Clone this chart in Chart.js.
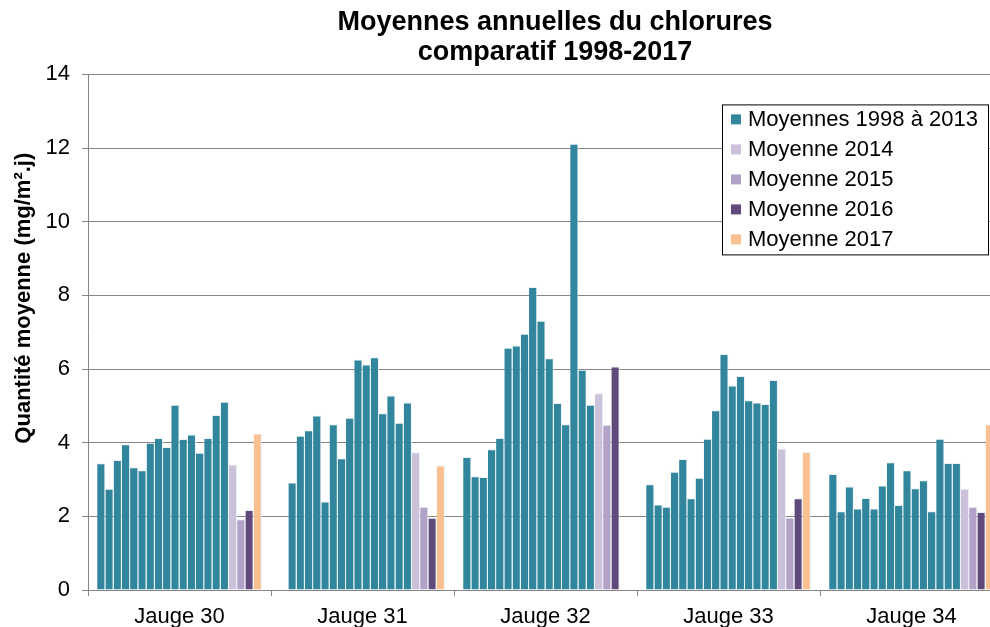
<!DOCTYPE html>
<html>
<head>
<meta charset="utf-8">
<script src="https://cdn.jsdelivr.net/npm/chart.js@4.4.1/dist/chart.umd.min.js"></script>
<style>
  html, body { margin: 0; padding: 0; background: #ffffff; overflow: hidden; }
  #wrap { width: 1110px; height: 640px; }
</style>
</head>
<body>
<div id="wrap"><canvas id="c" width="1110" height="640"></canvas></div>
<script>
// ---- Data ----
const categories = ['Jauge 30', 'Jauge 31', 'Jauge 32', 'Jauge 33', 'Jauge 34'];
const years = [1998, 1999, 2000, 2001, 2002, 2003, 2004, 2005, 2006, 2007, 2008, 2009, 2010, 2011, 2012, 2013];

// Annual means 1998..2013 for each gauge
const jauge30 = [3.44, 2.75, 3.53, 3.96, 3.33, 3.25, 4.00, 4.13, 3.88, 5.03, 4.10, 4.22, 3.73, 4.13, 4.75, 5.11];
const jauge31 = [null, 2.92, 4.19, 4.34, 4.74, 2.40, 4.50, 3.58, 4.68, 6.26, 6.12, 6.32, 4.80, 5.28, 4.54, 5.09];
const jauge32 = [3.61, 3.09, 3.07, 3.82, 4.13, 6.58, 6.64, 6.96, 8.23, 7.31, 6.29, 5.08, 4.50, 12.12, 5.98, 5.03];
const jauge33 = [2.87, 2.32, 2.26, 3.21, 3.56, 2.49, 3.05, 4.11, 4.88, 6.41, 5.55, 5.81, 5.15, 5.09, 5.05, 5.70];
const jauge34 = [3.15, 2.14, 2.81, 2.21, 2.50, 2.21, 2.84, 3.47, 2.31, 3.25, 2.76, 2.98, 2.14, 4.11, 3.45, 3.45];

// Later years, one value per gauge (30..34)
const moyenne2014 = [3.41, 3.74, 5.34, 3.84, 2.75];
const moyenne2015 = [1.92, 2.26, 4.49, 1.97, 2.26];
const moyenne2016 = [2.17, 1.96, 6.07, 2.49, 2.12];
const moyenne2017 = [4.25, 3.38, null, 3.75, 4.50];

const yTickMin = 0, yTickMax = 14, yTickStep = 2;

const titleLines = ['Moyennes annuelles du chlorures', 'comparatif 1998-2017'];
const yAxisTitle = 'Quantité moyenne (mg/m².j)';

// ---- Styles ----
const FONT = "'Liberation Sans', Arial, Helvetica, sans-serif";
const colTeal = '#31859C';
const col2014 = '#CCC1DA';
const col2015 = '#B3A2C7';
const col2016 = '#604A7B';
const col2017 = '#FAC090';
const gridCol = '#868686';

const perGauge = [jauge30, jauge31, jauge32, jauge33, jauge34];
const datasets = years.map((yr, i) => ({
  label: 'Moyennes 1998 à 2013',
  inLegend: i === 0,
  data: perGauge.map(g => g[i]),
  backgroundColor: colTeal
}));
datasets.push({ label: 'Moyenne 2014', inLegend: true, data: moyenne2014, backgroundColor: col2014 });
datasets.push({ label: 'Moyenne 2015', inLegend: true, data: moyenne2015, backgroundColor: col2015 });
datasets.push({ label: 'Moyenne 2016', inLegend: true, data: moyenne2016, backgroundColor: col2016 });
datasets.push({ label: 'Moyenne 2017', inLegend: true, data: moyenne2017, backgroundColor: col2017 });

// Boxed legend drawn inside the plot area (top-right)
const boxLegend = {
  id: 'boxLegend',
  afterDraw(chart) {
    const ctx = chart.ctx;
    const a = chart.chartArea;
    const items = chart.data.datasets.filter(d => d.inLegend);
    const bx = a.right - 281, by = a.top + 30, bw = 266, bh = 150;
    ctx.save();
    ctx.fillStyle = '#ffffff';
    ctx.fillRect(bx, by, bw, bh);
    ctx.strokeStyle = '#000000';
    ctx.lineWidth = 1;
    ctx.strokeRect(bx + 0.5, by + 0.5, bw, bh);
    ctx.font = '22px ' + FONT;
    ctx.textBaseline = 'middle';
    ctx.textAlign = 'left';
    items.forEach((d, i) => {
      const cy = by + 15 + i * 30;
      ctx.fillStyle = d.backgroundColor;
      ctx.fillRect(bx + 9, cy - 5, 10, 10);
      ctx.fillStyle = '#000000';
      ctx.fillText(d.label, bx + 26, cy + 1);
    });
    ctx.restore();
  }
};

// Rotated y-axis title, placed as in the reference (slightly above centre)
const yTitle = {
  id: 'yTitle',
  afterDraw(chart) {
    const ctx = chart.ctx;
    const a = chart.chartArea;
    ctx.save();
    ctx.translate(24, (a.top + a.bottom) / 2 - 34);
    ctx.rotate(-Math.PI / 2);
    ctx.font = 'bold 22px ' + FONT;
    ctx.fillStyle = '#000000';
    ctx.textAlign = 'center';
    ctx.textBaseline = 'middle';
    ctx.fillText(yAxisTitle, 0, 0);
    ctx.restore();
  }
};

new Chart(document.getElementById('c'), {
  type: 'bar',
  data: { labels: categories, datasets },
  options: {
    responsive: false,
    animation: false,
    layout: { padding: 0 },
    datasets: {
      bar: {
        categoryPercentage: 0.9,
        barPercentage: 1.0,
        borderWidth: { top: 1, right: 1, left: 0, bottom: 0 },
        borderColor: 'rgba(230,240,245,0.9)'
      }
    },
    plugins: {
      legend: { display: false },
      tooltip: { enabled: false },
      title: {
        display: true,
        text: titleLines,
        color: '#000000',
        font: { family: FONT, size: 27, weight: 'bold', lineHeight: 1.1 },
        padding: { top: 8, bottom: 7 }
      }
    },
    scales: {
      x: {
        grid: { display: true, drawOnChartArea: false, drawTicks: true, tickLength: 6, color: gridCol, offset: true },
        border: { color: gridCol },
        ticks: { color: '#000000', font: { family: FONT, size: 22 }, padding: 8, maxRotation: 0 },
        afterFit(s) { s.height = 50; }
      },
      y: {
        min: yTickMin, max: yTickMax,
        grid: { color: gridCol, tickLength: 6 },
        border: { color: gridCol },
        ticks: { stepSize: yTickStep, color: '#000000', font: { family: FONT, size: 22 }, padding: 12 },
        afterFit(s) { s.width = 88; }
      },
      yRight: {
        position: 'right',
        display: true,
        grid: { display: false },
        border: { display: false },
        ticks: { display: false },
        afterFit(s) { s.width = 107; }
      }
    }
  },
  plugins: [boxLegend, yTitle]
});
</script>
</body>
</html>
